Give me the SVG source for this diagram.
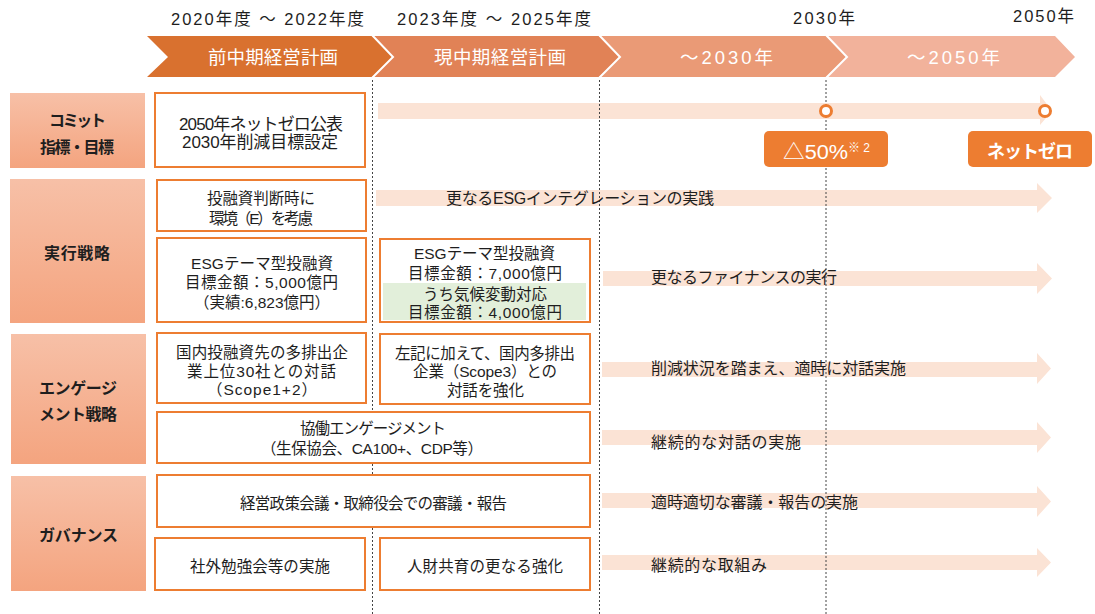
<svg xmlns="http://www.w3.org/2000/svg" width="1095" height="614" viewBox="0 0 1095 614">
<defs>
<linearGradient id="catg" x1="0" y1="0" x2="0" y2="1">
<stop offset="0" stop-color="#F7C0A7"/>
<stop offset="1" stop-color="#F4A47F"/>
</linearGradient>
</defs>
<style>
text{font-family:"Liberation Sans","Noto Sans CJK JP",sans-serif;fill:#1e1e1e}
.hd{font-size:16.5px;text-anchor:middle}
.ch{font-size:18.5px;fill:#fff;text-anchor:middle}
.cat{font-size:16px;font-weight:bold;text-anchor:middle}
.bt{font-size:15.5px;text-anchor:middle}
.bt17{font-size:17px;text-anchor:middle}
.at{font-size:16px}
.catbox{fill:url(#catg)}
.box{fill:#fff;stroke:#ED7D31;stroke-width:2}
.bar{fill:#FBE3D5}
.dash{stroke:#444;stroke-width:1;stroke-dasharray:2 2;fill:none}
.badge{fill:#ED7D31}
.mk{fill:#fff;stroke:#ED7D31;stroke-width:3}
.sep{fill:none;stroke:#fff;stroke-width:2}
</style>
<rect width="1095" height="614" fill="#fff"/>

<g id="header">
<text class="hd" x="267.5" y="25" textLength="193" lengthAdjust="spacing">2020年度 ～ 2022年度</text>
<text class="hd" x="494" y="25" textLength="194" lengthAdjust="spacing">2023年度 ～ 2025年度</text>
<text class="hd" x="824" y="24" textLength="62" lengthAdjust="spacing">2030年</text>
<text class="hd" x="1043.5" y="22" textLength="61" lengthAdjust="spacing">2050年</text>
</g>

<g id="chevrons">
<g id="chev1"><polygon points="147,36 372,36 393,57 372,77 147,77 168,57" fill="#D9712F"/><text class="ch" x="273" y="63.5" textLength="130" lengthAdjust="spacing">前中期経営計画</text></g>
<g id="chev2"><polygon points="372,36 599,36 620,57 599,77 372,77 393,57" fill="#E18256"/><text class="ch" x="500" y="63.5" textLength="132" lengthAdjust="spacing">現中期経営計画</text></g>
<g id="chev3"><polygon points="599,36 826,36 847,57 826,77 599,77 620,57" fill="#EA9A76"/><text class="ch" x="726.5" y="63.5" textLength="93" lengthAdjust="spacing">～2030年</text></g>
<g id="chev4"><polygon points="826,36 1055,36 1075,57 1055,77 826,77 847,57" fill="#F2B29B"/><text class="ch" x="953.5" y="63.5" textLength="93" lengthAdjust="spacing">～2050年</text></g>
<polyline class="sep" points="372,35 393,57 372,78"/>
<polyline class="sep" points="599,35 620,57 599,78"/>
<polyline class="sep" points="826,35 847,57 826,78"/>
</g>

<g id="connectors">
<polygon class="bar" points="378,103 1040,103 1040,95 1052,111 1040,125 1040,119 378,119"/>
<polygon class="bar" points="376,190 1037,190 1037,183 1052,198 1037,213 1037,206 376,206"/>
<polygon class="bar" points="603,271 1037,271 1037,263 1052,278.5 1037,294 1037,286 603,286"/>
<polygon class="bar" points="602,362 1037,362 1037,353 1051,368.5 1037,384 1037,377 602,377"/>
<polygon class="bar" points="602,430 1037,430 1037,422 1051,437.5 1037,453 1037,445 602,445"/>
<polygon class="bar" points="602,493 1037,493 1037,486 1051,501.5 1037,517 1037,508 602,508"/>
<polygon class="bar" points="602,555 1037,555 1037,548 1051,562.5 1037,577 1037,570 602,570"/>
<line class="dash" x1="372.5" y1="80" x2="372.5" y2="614"/>
<line class="dash" x1="599.5" y1="80" x2="599.5" y2="614"/>
<line class="dash" x1="826" y1="80" x2="826" y2="614"/>
</g>

<g id="arrow-labels">
<text class="at" x="446" y="204" textLength="268" lengthAdjust="spacing">更なるESGインテグレーションの実践</text>
<text class="at" x="651" y="283" textLength="186" lengthAdjust="spacing">更なるファイナンスの実行</text>
<text class="at" x="651" y="374" textLength="255" lengthAdjust="spacing">削減状況を踏まえ、適時に対話実施</text>
<text class="at" x="651" y="448" textLength="150" lengthAdjust="spacing">継続的な対話の実施</text>
<text class="at" x="651" y="508" textLength="207" lengthAdjust="spacing">適時適切な審議・報告の実施</text>
<text class="at" x="651" y="571" textLength="116" lengthAdjust="spacing">継続的な取組み</text>
</g>

<g id="cat-commit"><rect class="catbox" x="10" y="93" width="135" height="75"/>
<text class="cat" x="77.5" y="126" textLength="57" lengthAdjust="spacing">コミット</text>
<text class="cat" x="77" y="153" textLength="74" lengthAdjust="spacing">指標・目標</text></g>
<g id="cat-exec"><rect class="catbox" x="10" y="179" width="135" height="144"/>
<text class="cat" x="77" y="259" textLength="66" lengthAdjust="spacing">実行戦略</text></g>
<g id="cat-engage"><rect class="catbox" x="11" y="334" width="135" height="130"/>
<text class="cat" x="78" y="394" textLength="78" lengthAdjust="spacing">エンゲージ</text>
<text class="cat" x="78" y="420" textLength="78" lengthAdjust="spacing">メント戦略</text></g>
<g id="cat-gov"><rect class="catbox" x="11" y="476" width="135" height="115"/>
<text class="cat" x="78.5" y="541" textLength="79" lengthAdjust="spacing">ガバナンス</text></g>

<g id="b-commit"><rect class="box" x="155" y="93" width="210" height="74"/>
<text class="bt17" x="261" y="130" textLength="164" lengthAdjust="spacing">2050年ネットゼロ公表</text>
<text class="bt17" x="260" y="148" textLength="156" lengthAdjust="spacing">2030年削減目標設定</text></g>

<g id="b-judge"><rect class="box" x="157" y="180" width="209" height="51"/>
<text class="bt" x="261" y="203.5" textLength="108" lengthAdjust="spacing">投融資判断時に</text>
<text class="bt" x="261" y="223.5" textLength="104" lengthAdjust="spacing">環境（E）を考慮</text></g>

<g id="b-esg1"><rect class="box" x="157" y="238" width="209" height="84"/>
<text class="bt" x="262" y="268.5" textLength="142" lengthAdjust="spacing">ESGテーマ型投融資</text>
<text class="bt" x="261.5" y="287.5" textLength="153" lengthAdjust="spacing">目標金額：5,000億円</text>
<text class="bt" x="262" y="307.5" textLength="136" lengthAdjust="spacing">（実績:6,823億円）</text></g>

<g id="b-esg2"><rect class="box" x="380" y="239" width="210" height="83"/>
<rect x="383" y="283" width="203" height="37" fill="#E2EFDA"/>
<text class="bt" x="484.5" y="258.5" textLength="141" lengthAdjust="spacing">ESGテーマ型投融資</text>
<text class="bt" x="485" y="278.5" textLength="154" lengthAdjust="spacing">目標金額：7,000億円</text>
<text class="bt" x="485" y="299.5" textLength="124" lengthAdjust="spacing">うち気候変動対応</text>
<text class="bt" x="485" y="317.5" textLength="154" lengthAdjust="spacing">目標金額：4,000億円</text></g>

<g id="b-domestic"><rect class="box" x="157" y="333" width="209" height="70"/>
<text class="bt" x="262" y="357.5" textLength="172" lengthAdjust="spacing">国内投融資先の多排出企</text>
<text class="bt" x="261.5" y="376.5" textLength="149" lengthAdjust="spacing">業上位30社との対話</text>
<text class="bt" x="262" y="394.5" textLength="110" lengthAdjust="spacing">（Scope1+2）</text></g>

<g id="b-scope3"><rect class="box" x="380" y="334" width="210" height="70"/>
<text class="bt" x="485" y="358.5" textLength="180" lengthAdjust="spacing">左記に加えて、国内多排出</text>
<text class="bt" x="485" y="376.5" textLength="144" lengthAdjust="spacing">企業（Scope3）との</text>
<text class="bt" x="485.5" y="395.5" textLength="77" lengthAdjust="spacing">対話を強化</text></g>

<g id="b-collab"><rect class="box" x="157" y="412" width="433" height="51"/>
<text class="bt" x="373" y="433.5" textLength="146" lengthAdjust="spacing">協働エンゲージメント</text>
<text class="bt" x="372" y="453.5" textLength="222" lengthAdjust="spacing">（生保協会、CA100+、CDP等）</text></g>

<g id="b-board"><rect class="box" x="157" y="475" width="433" height="52"/>
<text class="bt" x="373.5" y="508.5" textLength="267" lengthAdjust="spacing">経営政策会議・取締役会での審議・報告</text></g>

<g id="b-study"><rect class="box" x="155" y="538" width="210" height="52"/>
<text class="bt" x="260" y="571.5" textLength="140" lengthAdjust="spacing">社外勉強会等の実施</text></g>

<g id="b-talent"><rect class="box" x="380" y="538" width="210" height="52"/>
<text class="bt" x="485" y="571.5" textLength="156" lengthAdjust="spacing">人財共育の更なる強化</text></g>

<g id="m2030"><circle class="mk" cx="826" cy="111" r="5.5"/></g>
<g id="m2050"><circle class="mk" cx="1045" cy="111" r="5.5"/></g>

<g id="badge-50"><rect class="badge" x="764" y="131" width="124" height="36" rx="5"/>
<text x="783" y="159" style="font-size:20px;fill:#fff" textLength="65" lengthAdjust="spacingAndGlyphs">△50%</text>
<text x="848" y="152" style="font-size:12px;fill:#fff" textLength="22" lengthAdjust="spacing">※2</text></g>

<g id="badge-nz"><rect class="badge" x="968" y="131" width="124" height="36" rx="5"/>
<text x="1030" y="157.5" style="font-size:18px;font-weight:bold;fill:#fff;text-anchor:middle" textLength="86" lengthAdjust="spacing">ネットゼロ</text></g>
</svg>
